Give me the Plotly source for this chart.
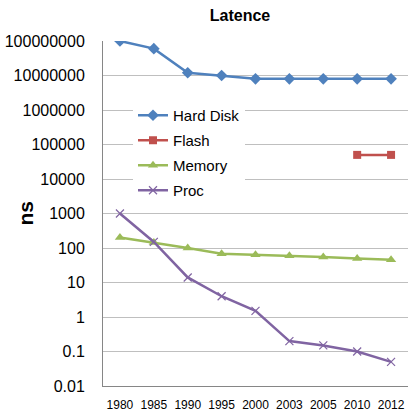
import plotly.graph_objects as go

years = ["1980", "1985", "1990", "1995", "2000", "2003", "2005", "2010", "2012"]
hard_disk = [1e8, 6e7, 1.2e7, 1e7, 8e6, 8e6, 8e6, 8e6, 8e6]
flash = [None, None, None, None, None, None, None, 5e4, 5e4]
memory = [200, 145, 100, 68, 64, 60, 55, 50, 46]
proc = [1000, 150, 14, 4, 1.5, 0.2, 0.15, 0.1, 0.05]

y_tick_vals = [0.01, 0.1, 1, 10, 100, 1000, 10000, 100000, 1000000, 10000000, 100000000]
y_tick_text = ["0.01", "0.1", "1", "10", "100", "1000", "10000", "100000",
               "1000000", "10000000", "100000000"]

FONT = "Liberation Sans"

fig = go.Figure()
fig.add_trace(go.Scatter(x=years, y=hard_disk, name="Hard Disk", mode="lines+markers",
                         legendgroup="a",
                         line=dict(color="#4F81BD", width=2.5),
                         marker=dict(symbol="diamond", size=9, color="#4F81BD")))
fig.add_trace(go.Scatter(x=years, y=flash, name="Flash", mode="lines+markers",
                         legendgroup="b",
                         line=dict(color="#C0504D", width=2.5),
                         marker=dict(symbol="square", size=8, color="#C0504D")))
fig.add_trace(go.Scatter(x=years, y=memory, name="Memory", mode="lines+markers",
                         legendgroup="c",
                         line=dict(color="#9BBB59", width=2.5),
                         marker=dict(symbol="triangle-up", size=9, color="#9BBB59")))
fig.add_trace(go.Scatter(x=years, y=proc, name="Proc", mode="lines+markers",
                         legendgroup="d",
                         line=dict(color="#8064A2", width=2.5),
                         marker=dict(symbol="x-thin", size=8,
                                     line=dict(color="#8064A2", width=1.2))))

fig.update_layout(
    width=408, height=411,
    margin=dict(l=103, r=0, t=41, b=25, autoexpand=False),
    paper_bgcolor="white", plot_bgcolor="white",
    font=dict(family=FONT, color="black"),
    title=dict(text="<b>Latence</b>", x=240 / 408, xanchor="center",
               y=1 - 15 / 411, yanchor="middle", font=dict(size=16, family=FONT)),
    showlegend=True,
    legend=dict(x=(133 - 103) / 305, y=(386 - 99) / 345, xanchor="left", yanchor="top",
                bgcolor="white", font=dict(size=15, family=FONT),
                itemwidth=30, tracegroupgap=2.5),
    xaxis=dict(type="category", range=[-0.5, 8.5], showgrid=False,
               showline=True, linecolor="#868686", linewidth=1,
               ticks="outside", ticklen=8, tickcolor="rgba(0,0,0,0)",
               tickangle=0, tickfont=dict(size=12, family=FONT),
               automargin=False, fixedrange=True),
    yaxis=dict(type="log", range=[-2, 8], tickvals=y_tick_vals, ticktext=y_tick_text,
               showgrid=True, gridcolor="#BFBFBF", gridwidth=1,
               showline=True, linecolor="#868686", linewidth=1,
               ticks="outside", ticklen=14, tickcolor="rgba(0,0,0,0)",
               tickfont=dict(size=16, family=FONT),
               zeroline=False, automargin=False, fixedrange=True),
    annotations=[dict(text="<b>ns</b>", xref="paper", yref="paper",
                      x=-(103 - 25) / 305, y=0.5, xanchor="center", yanchor="middle",
                      textangle=-90, showarrow=False, font=dict(size=21, family=FONT))],
)

fig.write_html("out.html", config={"displayModeBar": False},
               post_script="document.body.style.margin='0';")
